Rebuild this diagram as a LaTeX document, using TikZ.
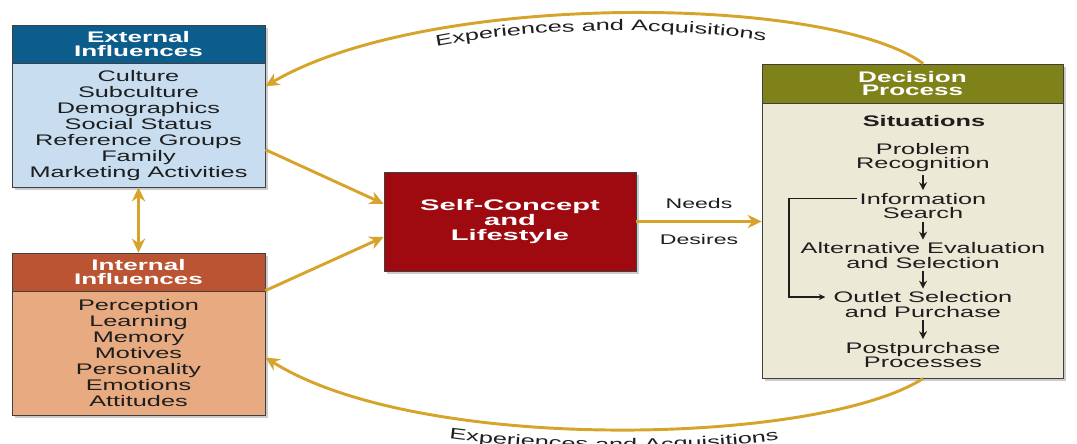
\documentclass[tikz,border=0pt]{standalone}
\usepackage{fontspec}
\setmainfont{Liberation Sans}
\newfontfamily\bodyf{Liberation Sans}[FakeStretch=1.65]
\newfontfamily\headf{Liberation Sans}[FakeStretch=1.7]
\newfontfamily\selff{Liberation Sans}[FakeStretch=1.9]
\usetikzlibrary{arrows.meta,shadows,decorations.text}
\definecolor{extH}{RGB}{12,92,140}
\definecolor{extB}{RGB}{200,221,240}
\definecolor{intH}{RGB}{186,84,50}
\definecolor{intB}{RGB}{232,170,128}
\definecolor{selfR}{RGB}{158,10,16}
\definecolor{decH}{RGB}{126,130,24}
\definecolor{decB}{RGB}{237,233,215}
\definecolor{gold}{RGB}{214,164,42}
\definecolor{ink}{RGB}{30,30,30}
\tikzset{
  boxbase/.style={draw=ink!85, line width=0.6pt, inner sep=0pt,
    drop shadow={shadow xshift=2.5pt,shadow yshift=-2.5pt,opacity=0.4}},
  headtxt/.style={font=\headf\bfseries\fontsize{11.5}{10.3}\selectfont, text=white, align=center},
  bodytxt/.style={font=\bodyf\fontsize{11.5}{12}\selectfont, text=ink, align=center},
  steptxt/.style={font=\bodyf\fontsize{11.5}{10.9}\selectfont, text=ink, align=center, inner sep=2pt},
  lbltxt/.style={font=\bodyf\fontsize{10.5}{12}\selectfont, text=ink},
  goldarrow/.style={draw=gold, line width=2.2pt, -{Stealth[length=10.5pt,width=10pt]}},
  goldboth/.style={draw=gold, line width=2.2pt, {Stealth[length=10.5pt,width=10pt]}-{Stealth[length=10.5pt,width=10pt]}},
  darrow/.style={draw=ink, line width=1.4pt, -{Stealth[length=6pt,width=6pt]}},
  fbarrow/.style={draw=ink, line width=0.9pt, -{Stealth[length=5pt,width=4.5pt]}},
}
\begin{document}
\begin{tikzpicture}[x=0.75pt,y=-0.75pt]
\useasboundingbox (0,0) rectangle (1077,443);

% External influences
\node[boxbase, fill=extH, minimum width=189.75pt, minimum height=28.5pt, headtxt] (ehead) at (138.5,44) {External\\Influences};
\node[boxbase, fill=extB, minimum width=189.75pt, minimum height=93pt, bodytxt] (ebody) at (138.5,125)
  {\rule{0pt}{9.5pt}Culture\\Subculture\\Demographics\\Social Status\\Reference Groups\\Family\\Marketing Activities};

% Internal influences
\node[boxbase, fill=intH, minimum width=189.75pt, minimum height=28.5pt, headtxt] (ihead) at (138.5,272) {Internal\\Influences};
\node[boxbase, fill=intB, minimum width=189.75pt, minimum height=93pt, bodytxt] (ibody) at (138.5,353)
  {Perception\\Learning\\Memory\\Motives\\Personality\\Emotions\\Attitudes};

% Self-concept
\node[boxbase, fill=selfR, minimum width=189pt, minimum height=74.25pt, text=white, align=center,
  font=\selff\bfseries\fontsize{11.5}{11.4}\selectfont] (self) at (510,221.5) {Self-Concept\\and\\Lifestyle};

% Decision process
\node[boxbase, fill=decH, minimum width=225.75pt, minimum height=29.25pt, headtxt] (dhead) at (912.5,83.5) {Decision\\Process};
\node[boxbase, fill=decB, minimum width=225.75pt, minimum height=206.25pt] (dbody) at (912.5,240.5) {};

\node[steptxt] (sit) at (924,121) {\bfseries Situations};
\node[steptxt] (p1) at (923,157.5) {Problem\\Recognition};
\node[steptxt] (p2) at (923,206) {Information\\Search};
\node[steptxt] (p3) at (923,255.5) {Alternative Evaluation\\and Selection};
\node[steptxt] (p4) at (923,304.5) {Outlet Selection\\and Purchase};
\node[steptxt] (p5) at (923,355) {Postpurchase\\Processes};

\draw[darrow] (p1) -- (p2);
\draw[darrow] (p2) -- (p3);
\draw[darrow] (p3) -- (p4);
\draw[darrow] (p4) -- (p5);

\coordinate (fbx) at (789,0);
\coordinate (ib) at ([yshift=5.4pt]p2.west);
\coordinate (ob) at ([yshift=5.6pt]p4.west);
\draw[fbarrow, shorten >=4pt] (ib) -- (ib -| fbx) |- (ob);

% gold connectors
\draw[goldarrow] (ebody.-11) -- (self.172.5);
\draw[goldarrow] (ibody.north east) -- (self.187);
\draw[goldboth] (ebody.south) -- (ihead.north);
\draw[goldarrow] (self.east) -- (self.east -| dbody.west)
  node[midway, above=5pt, lbltxt] (needs) {Needs}
  node[midway, below=5pt, lbltxt] (desires) {Desires};

\draw[goldarrow] ([xshift=8pt]dhead.north) .. controls (830,-5) and (430,-10) .. (ebody.17);
\draw[goldarrow] ([xshift=8pt]dbody.south) .. controls (820,445) and (420,455) .. (ibody.-2);

\path[decorate, decoration={text along path, text align=center,
  text={|\bodyf\fontsize{11.5}{12}\selectfont\color{ink}|Experiences and Acquisitions}}]
  (430,48) .. controls (540,26) and (670,26) .. (772,42);
\path[decorate, decoration={text along path, text align=center,
  text={|\bodyf\fontsize{11.5}{12}\selectfont\color{ink}|Experiences and Acquisitions}}]
  (450,439) .. controls (560,453) and (690,453) .. (778,440);
\end{tikzpicture}
\end{document}
